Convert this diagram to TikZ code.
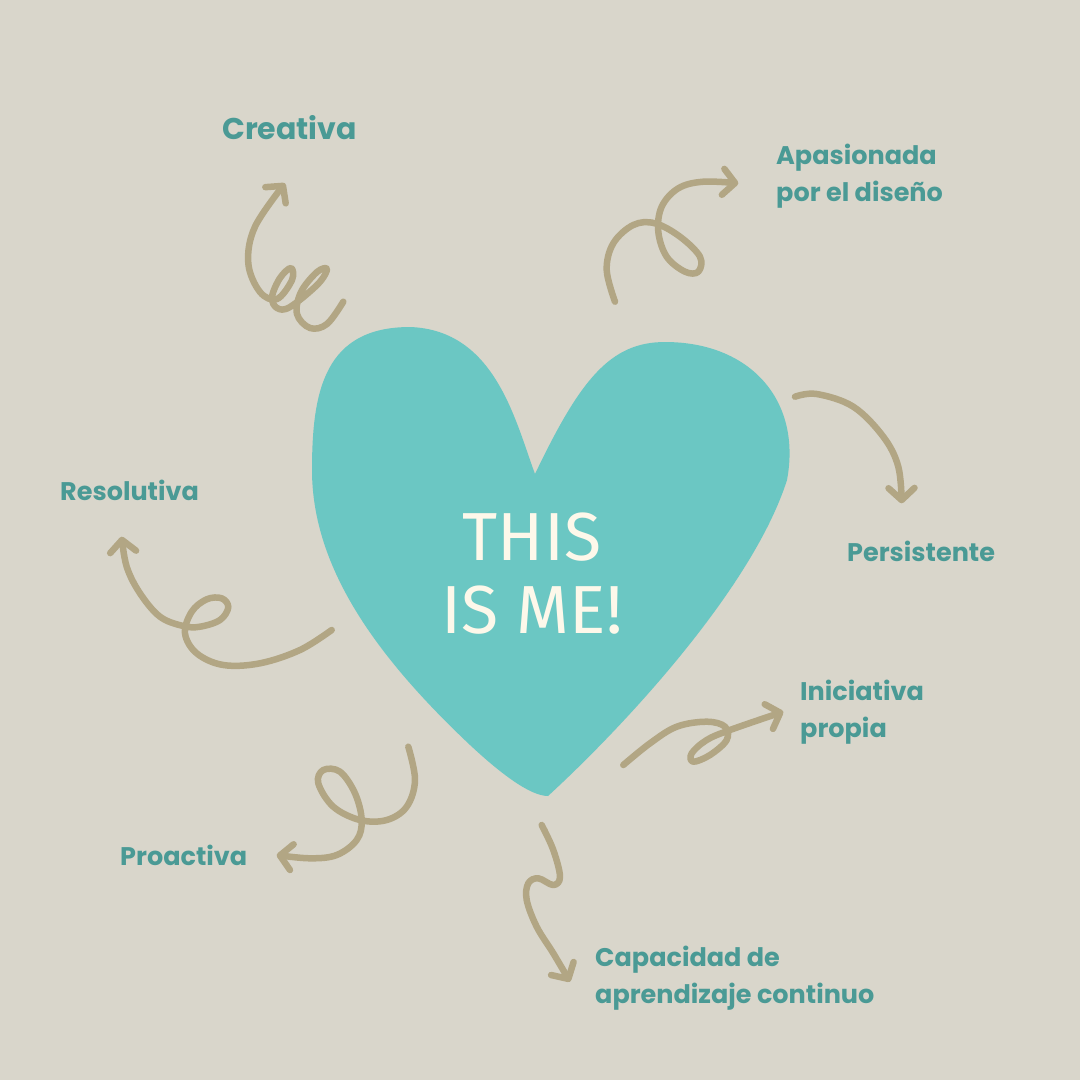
\documentclass[tikz,border=0pt]{standalone}
\usepackage{fontspec}
\setmainfont{Poppins}
\newfontfamily\titlefont{Fira Sans}
\usetikzlibrary{arrows.meta}
\definecolor{bg}{HTML}{D9D6CB}
\definecolor{heart}{HTML}{6BC7C3}
\definecolor{arrowc}{HTML}{B2A684}
\definecolor{labelc}{HTML}{4A9A95}
\definecolor{titlec}{HTML}{FDF8EA}
\tikzset{
  lbl/.style={anchor=base west, inner sep=0pt, text=labelc, align=left,
    font=\fontsize{25.5}{37}\selectfont\bfseries},
  swirl/.style={draw=arrowc, line width=6.5pt, line cap=round, line join=round,
    -{Straight Barb[length=12pt,width=26pt,round]}},
}
\begin{document}
\begin{tikzpicture}[x=1pt,y=-1pt]
\fill[bg] (0,0) rectangle (1080,1080);
\useasboundingbox (0,0) rectangle (1080,1080);
% heart
\fill[heart] (535,474) .. controls (515,420) and (495,330) .. (410,327)
  .. controls (325,327) and (312,390) .. (312,470)
  .. controls (312,570) and (380,660) .. (470,745)
  .. controls (500,773) and (530,796) .. (548,796)
  .. controls (620,730) and (752,590) .. (787,480)
  .. controls (802,400) and (750,342) .. (665,342)
  .. controls (610,342) and (580,380) .. (535,474) -- cycle;
\node[align=center, text=titlec, font=\titlefont\fontsize{68}{73}\selectfont, inner sep=0pt] (title) at (532,574) {THIS\\IS ME!};
% labels
\node[lbl, font=\fontsize{30}{37}\selectfont\bfseries] (creativa) at (222,139) {Creativa};
\node[lbl] (apas) at (776,201) {Apasionada\\por el diseño};
\node[lbl] (pers) at (847,561) {Persistente};
\node[lbl] (reso) at (60,500) {Resolutiva};
\node[lbl] (inic) at (800,737) {Iniciativa\\propia};
\node[lbl] (proa) at (120,865) {Proactiva};
\node[lbl] (capa) at (595,1003) {Capacidad de\\aprendizaje continuo};
% arrow end points
\coordinate (s1) at (343.3,301.7); \coordinate (e1) at (285,183.3);
\coordinate (s2) at (615,301.7);   \coordinate (e2) at (738.3,183.3);
\coordinate (s3) at (795,396.7);   \coordinate (e3) at (901.7,503.3);
\coordinate (s4) at (331.7,630);   \coordinate (e4) at (121.7,536.7);
\coordinate (s5) at (408.3,746.7); \coordinate (e5) at (276.7,855);
\coordinate (s6) at (623.3,765);   \coordinate (e6) at (783.3,711.7);
\coordinate (s7) at (541.7,825);   \coordinate (e7) at (570,981.7);
% Creativa
\draw[swirl] plot[smooth, tension=0.6] coordinates {(s1) (327,324) (310,328) (297,314) (301,292) (317,272) (327,269) (318,284) (290,307) (277,308) (272,297) (280,278) (291,268) (292,280) (277,299) (260,292) (248.3,263.3) (255,226.7) (e1)};
% Apasionada
\draw[swirl] plot[smooth, tension=0.6] coordinates {(s2) (606.7,270) (613.3,243.3) (633.3,225) (655,223.3) (680,236.7) (700,256.7) (698.3,271.7) (685,271.7) (666.7,256.7) (658.3,231.7) (661.7,206.7) (678.3,188.3) (703.3,181.7) (e2)};
% Persistente
\draw[swirl] plot[smooth, tension=0.6] coordinates {(s3) (816.7,394) (853.3,406.7) (883.3,436.7) (898.3,466.7) (e3)};
% Resolutiva
\draw[swirl] plot[smooth, tension=0.6] coordinates {(s4) (300,650) (260,663.3) (223.3,665) (196.7,653.3) (185,633.3) (191.7,611.7) (206.7,599.3) (221.7,598.3) (228.3,607.3) (220,620) (200,626.7) (183.3,626) (160,616.7) (140,593.3) (126.7,566.7) (e4)};
% Proactiva
\draw[swirl] plot[smooth, tension=0.6] coordinates {(s5) (415,780) (406.7,806.7) (386.7,820) (360,820) (333.3,806.7) (318.3,783.3) (323.3,770) (340,771.7) (355,793.3) (361.7,820) (356.7,840) (336.7,855) (310,858.3) (e5)};
% Iniciativa
\draw[swirl] plot[smooth, tension=0.6] coordinates {(s6) (650,743.3) (676.7,726.7) (706.7,721.7) (725,726.7) (726.7,740) (710,755) (693.3,761.7) (691.7,753.3) (706.7,740) (730,730) (e6)};
% Capacidad
\draw[swirl] plot[smooth, tension=0.6] coordinates {(s7) (553.3,850) (560,876.7) (553.3,885) (538.3,878.3) (528.3,883.3) (526.7,900) (536.7,926.7) (553.3,953.3) (e7)};
\end{tikzpicture}
\end{document}
